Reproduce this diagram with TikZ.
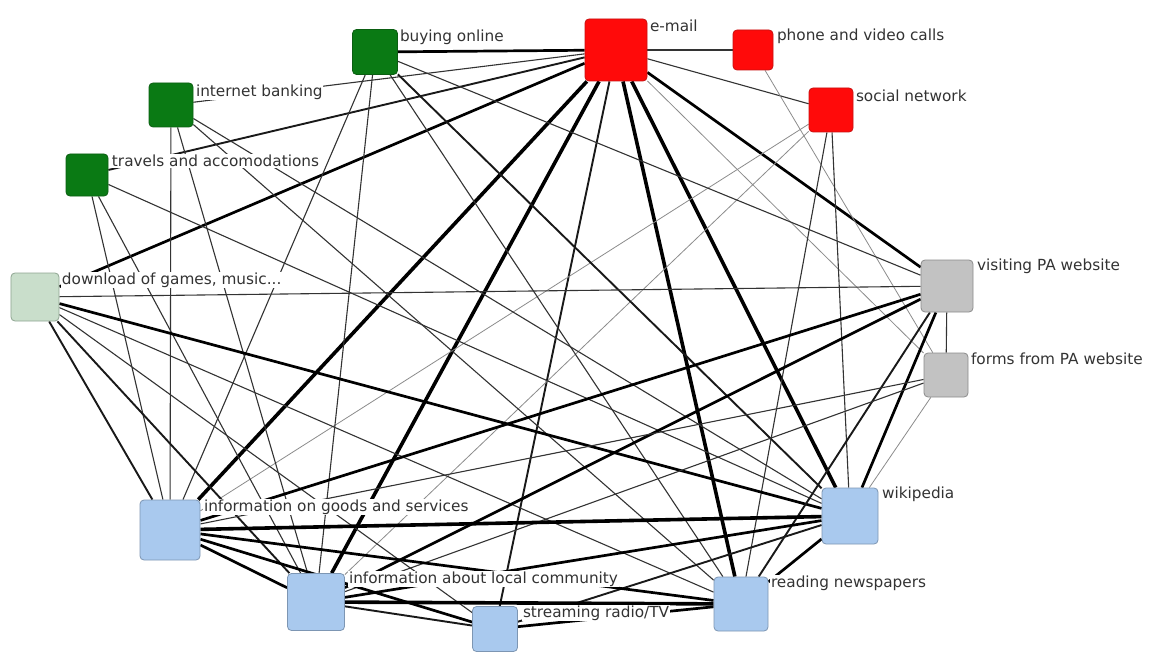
\documentclass[tikz,border=0pt]{standalone}
\usepackage{fontspec}
\setmainfont{DejaVu Sans}
\pgfdeclarelayer{edgelayer}
\pgfdeclarelayer{bglayer}
\pgfsetlayers{bglayer,edgelayer,main}
\definecolor{nred}{HTML}{FF0A0A}
\definecolor{nredd}{HTML}{C81010}
\definecolor{ngreen}{HTML}{0A7A14}
\definecolor{ngreend}{HTML}{0B5E12}
\definecolor{npale}{HTML}{C9DECB}
\definecolor{npaled}{HTML}{8FA592}
\definecolor{ngray}{HTML}{C2C2C2}
\definecolor{ngrayd}{HTML}{8C8C8C}
\definecolor{nblue}{HTML}{A9C9EE}
\definecolor{nblued}{HTML}{7D96B3}
\definecolor{txt}{HTML}{333333}
\begin{document}
\begin{tikzpicture}[x=1bp,y=-1bp,
  box/.style={rectangle, rounded corners=4bp, line width=0.8bp, inner sep=0pt, minimum size=#1},
  rednode/.style={box=#1, fill=nred, draw=nredd},
  greennode/.style={box=#1, fill=ngreen, draw=ngreend},
  palenode/.style={box=#1, fill=npale, draw=npaled},
  graynode/.style={box=#1, fill=ngray, draw=ngrayd},
  bluenode/.style={box=#1, fill=nblue, draw=nblued},
  lbl/.style={anchor=west, fill=white, inner sep=0.8bp, text=txt, font=\fontsize{15.3bp}{17bp}\selectfont},
  wlight/.style={line width=0.8bp, draw=black!45},
  wthin/.style={line width=1.1bp, draw=black!80},
  wmid/.style={line width=1.9bp, draw=black!90},
  wbig/.style={line width=2.7bp, draw=black},
  wfat/.style={line width=3.6bp, draw=black}]
\useasboundingbox (0,0) rectangle (1154,653);
\begin{pgfonlayer}{bglayer}
\fill[white] (0,0) rectangle (1154,653);
\end{pgfonlayer}

% nodes
\node[rednode=62bp]   (E)  at (616,50)  {};
\node[rednode=40bp]   (P)  at (753,50)  {};
\node[rednode=44bp]   (S)  at (831,110) {};
\node[greennode=45bp] (B)  at (375,52)  {};
\node[greennode=44bp] (IB) at (171,105) {};
\node[greennode=42bp] (T)  at (87,175)  {};
\node[palenode=48bp]  (D)  at (35,297)  {};
\node[graynode=52bp]  (V)  at (947,286) {};
\node[graynode=44bp]  (F)  at (946,375) {};
\node[bluenode=56bp]  (W)  at (850,516) {};
\node[bluenode=54bp]  (R)  at (741,604) {};
\node[bluenode=45bp]  (ST) at (495,629) {};
\node[bluenode=57bp]  (L)  at (316,602) {};
\node[bluenode=60bp]  (G)  at (170,530) {};

% edges
\begin{pgfonlayer}{edgelayer}
\draw[wbig]  (E) -- (B);
\draw[wthin] (E) -- (P);
\draw[wthin] (E) -- (S);
\draw[wthin] (E) -- (IB);
\draw[wmid]  (E) -- (T);
\draw[wbig]  (E) -- (D);
\draw[wfat]  (E) -- (G);
\draw[wfat]  (E) -- (L);
\draw[wmid]  (E) -- (ST);
\draw[wfat]  (E) -- (R);
\draw[wfat]  (E) -- (W);
\draw[wbig]  (E) -- (V);
\draw[wlight] (E) -- (F);
\draw[wlight] (P) -- (F);
\draw[wthin] (S) -- (R);
\draw[wthin] (S) -- (W);
\draw[wlight] (S) -- (G);
\draw[wlight] (S) -- (L);
\draw[wthin] (B) -- (G);
\draw[wthin] (B) -- (L);
\draw[wmid]  (B) -- (W);
\draw[wthin] (B) -- (R);
\draw[wthin] (B) -- (V);
\draw[wthin] (IB) -- (G);
\draw[wthin] (IB) -- (L);
\draw[wthin] (IB) -- (W);
\draw[wthin] (IB) -- (R);
\draw[wthin] (T) -- (G);
\draw[wthin] (T) -- (L);
\draw[wthin] (T) -- (W);
\draw[wthin] (D) -- (V);
\draw[wbig]  (D) -- (W);
\draw[wthin] (D) -- (R);
\draw[wthin] (D) -- (ST);
\draw[wmid]  (D) -- (L);
\draw[wmid]  (D) -- (G);
\draw[wthin] (V) -- (F);
\draw[wbig]  (V) -- (G);
\draw[wbig]  (V) -- (L);
\draw[wbig]  (V) -- (W);
\draw[wmid]  (V) -- (R);
\draw[wthin] (F) -- (G);
\draw[wthin] (F) -- (L);
\draw[wlight] (F) -- (W);
\draw[wfat]  (W) -- (G);
\draw[wbig]  (W) -- (L);
\draw[wmid]  (W) -- (ST);
\draw[wbig]  (W) -- (R);
\draw[wbig]  (R) -- (ST);
\draw[wfat]  (R) -- (L);
\draw[wbig]  (R) -- (G);
\draw[wmid]  (ST) -- (L);
\draw[wbig]  (ST) -- (G);
\draw[wbig]  (L) -- (G);
\end{pgfonlayer}

% labels
\node[lbl] (Elab)  at (649,26)  {e-mail};
\node[lbl] (Plab)  at (776,36)  {phone and video calls};
\node[lbl] (Slab)  at (855,96)  {social network};
\node[lbl] (Blab)  at (399,37)  {buying online};
\node[lbl] (IBlab) at (195,92)  {internet banking};
\node[lbl] (Tlab)  at (111,161) {travels and accomodations};
\node[lbl] (Dlab)  at (61,280)  {download of games, music...};
\node[lbl] (Vlab)  at (976,266) {visiting PA website};
\node[lbl] (Flab)  at (970,359) {forms from PA website};
\node[lbl] (Wlab)  at (881,494) {wikipedia};
\node[lbl] (Rlab)  at (770,583) {reading newspapers};
\node[lbl] (STlab) at (522,613) {streaming radio/TV};
\node[lbl] (Llab)  at (348,579) {information about local community};
\node[lbl] (Glab)  at (203,507) {information on goods and services};
\end{tikzpicture}
\end{document}
